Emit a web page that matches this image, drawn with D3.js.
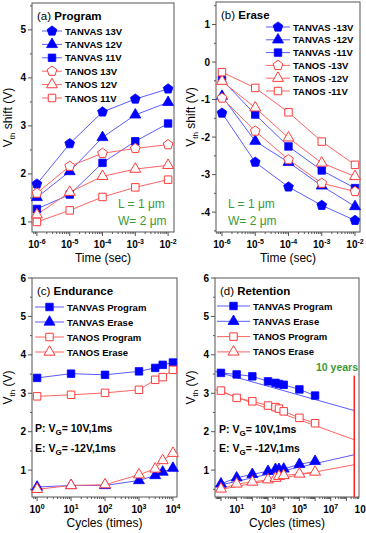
<!DOCTYPE html>
<html>
<head>
<meta charset="utf-8">
<script src="https://cdn.jsdelivr.net/npm/d3@7"></script>
<style>
  body { margin: 0; background: #fff; }
  svg { display: block; font-family: "Liberation Sans", Arial, sans-serif; }
</style>
</head>
<body>
<div id="chart"></div>
<script>
// ---- data ----
const pulseTime = [1e-6, 1e-5, 1e-4, 1e-3, 1e-2];

const progTanvas13 = [1.79, 2.63, 3.29, 3.56, 3.77];
const progTanvas12 = [1.51, 2.05, 2.76, 3.23, 3.49];
const progTanvas11 = [1.27, 1.57, 2.23, 2.68, 3.05];
const progTanos13 = [1.60, 2.16, 2.43, 2.53, 2.61];
const progTanos12 = [1.15, 1.62, 1.95, 2.10, 2.18];
const progTanos11 = [1.00, 1.24, 1.52, 1.72, 1.88];

const eraseTanvas13 = [-1.36, -2.67, -3.33, -3.82, -4.22];
const eraseTanvas12 = [-0.91, -2.11, -2.67, -3.30, -3.85];
const eraseTanvas11 = [-0.47, -1.40, -2.25, -2.89, -3.36];
const eraseTanos13 = [-0.96, -1.84, -2.60, -3.23, -3.45];
const eraseTanos12 = [-0.51, -1.22, -2.02, -2.69, -3.05];
const eraseTanos11 = [-0.27, -0.69, -1.34, -2.12, -2.74];

const cycles = [1, 10, 100, 1e3, 3e3, 5e3, 1e4];
const endTanvasProg = [3.40, 3.51, 3.48, 3.57, 3.66, 3.74, 3.80];
const endTanosProg = [2.92, 2.96, 3.01, 3.09, 3.35, 3.42, 3.61];
const endTanvasErase = [0.56, 0.60, 0.60, 0.73, 0.86, 0.95, 1.05];
const endTanosErase = [0.50, 0.60, 0.62, 0.88, 1.03, 1.25, 1.44];

const retTime = [1, 10, 100, 1e3, 3e3, 5e3, 1e4, 1e5, 1e6];
const retTanvasProg = [3.53, 3.49, 3.44, 3.31, 3.27, 3.24, 3.22, 3.10, 2.94];
const retTanosProg = [3.07, 2.88, 2.79, 2.68, 2.64, 2.60, 2.53, 2.36, 2.22];
const retTanvasErase = [0.64, 0.80, 0.89, 0.97, 1.02, 1.02, 1.03, 1.15, 1.23];
const retTanosErase = [0.51, 0.64, 0.69, 0.75, 0.79, 0.84, 0.86, 0.90, 0.95];

// extrapolation to 10 years
const tenYears = 3.15e8;
const fitTime = [Math.pow(10, -0.38), tenYears];
const fitTanvasProg = [3.57, 2.55];
const fitTanosProg = [3.10, 1.79];
const fitTanvasErase = [0.58, 1.40];
const fitTanosErase = [0.47, 1.14];

// ---- styling ----
const BLUE = "#0000ff", BLUE_LINE = "#5c5cff";
const RED = "#ff3b3b", RED_LINE = "#ff6464";
const GREEN = "#3a9a3a";

const svg = d3.select("#chart").append("svg")
  .attr("width", 366)
  .attr("height", 533);

const pentagon = {
  draw(ctx, size) {
    const r = Math.sqrt(size / 2.378);
    for (let k = 0; k < 5; k++) {
      const a = -Math.PI / 2 + k * 2 * Math.PI / 5;
      if (k === 0) ctx.moveTo(r * Math.cos(a), r * Math.sin(a));
      else ctx.lineTo(r * Math.cos(a), r * Math.sin(a));
    }
    ctx.closePath();
  }
};
const shapes = {
  pent: d3.symbol().type(pentagon).size(62),
  tri: d3.symbol().type(d3.symbolTriangle).size(52),
  sq: d3.symbol().type(d3.symbolSquare).size(56)
};

function drawMarker(g, shape, filled, cx, cy) {
  g.append("path")
    .attr("d", shapes[shape]())
    .attr("transform", `translate(${cx},${cy})`)
    .attr("fill", filled ? BLUE : "#fff")
    .attr("stroke", filled ? BLUE : RED)
    .attr("stroke-width", filled ? 0.8 : 1);
}

function supText(sel, base, exp, size) {
  sel.append("tspan").text(base);
  sel.append("tspan").attr("dy", -4).attr("font-size", size).text(exp);
}

function drawPanel(cfg) {
  const g = svg.append("g");
  const x = d3.scaleLog().domain(cfg.xDomain).range([cfg.left, cfg.right]);
  const y = d3.scaleLinear().domain(cfg.yDomain).range([cfg.bottom, cfg.top]);

  // y ticks (outward)
  const [y0, y1] = cfg.yDomain;
  for (let v = Math.ceil(y0 * 2) / 2; v <= y1 + 1e-9; v += 0.5) {
    const major = Math.abs(v - Math.round(v)) < 1e-9;
    g.append("line")
      .attr("x1", cfg.left).attr("x2", cfg.left - (major ? 4 : 2))
      .attr("y1", y(v)).attr("y2", y(v))
      .attr("stroke", "#555").attr("stroke-width", 1);
    if (major) {
      g.append("text")
        .attr("x", cfg.left - 6).attr("y", y(v) + 3.5)
        .attr("text-anchor", "end")
        .attr("font-size", 10).attr("font-weight", "bold")
        .text(v);
    }
  }

  // x ticks (log, outward)
  const [lx0, lx1] = cfg.xDomain.map(Math.log10);
  for (let d = Math.floor(lx0); d <= Math.ceil(lx1); d++) {
    for (let k = 1; k <= 9; k++) {
      const v = k * Math.pow(10, d);
      const lv = Math.log10(v);
      if (lv < lx0 - 1e-9 || lv > lx1 + 1e-9) continue;
      g.append("line")
        .attr("x1", x(v)).attr("x2", x(v))
        .attr("y1", cfg.bottom).attr("y2", cfg.bottom + (k === 1 ? 4 : 2))
        .attr("stroke", "#555").attr("stroke-width", 1);
    }
  }
  cfg.xLabels.forEach(d => {
    const t = g.append("text")
      .attr("x", x(Math.pow(10, d))).attr("y", cfg.bottom + 16)
      .attr("text-anchor", "middle")
      .attr("font-size", 10).attr("font-weight", "bold");
    supText(t, "10", String(d), 7);
  });

  // frame
  g.append("rect")
    .attr("x", cfg.left).attr("y", cfg.top)
    .attr("width", cfg.right - cfg.left).attr("height", cfg.bottom - cfg.top)
    .attr("fill", "none").attr("stroke", "#555").attr("stroke-width", 1);

  // axis titles
  g.append("text")
    .attr("x", (cfg.left + cfg.right) / 2).attr("y", cfg.bottom + 30)
    .attr("text-anchor", "middle").attr("font-size", 12)
    .text(cfg.xTitle);
  const yt = g.append("text")
    .attr("transform", `translate(${cfg.yTitleX},${(cfg.top + cfg.bottom) / 2}) rotate(-90)`)
    .attr("text-anchor", "middle").attr("font-size", 12);
  yt.append("tspan").text("V");
  yt.append("tspan").attr("dy", 3).attr("font-size", 8).text("th");
  yt.append("tspan").attr("dy", -3).text(cfg.yTitleRest);

  // extra fit lines
  (cfg.fits || []).forEach(f => {
    g.append("path")
      .datum(f.ys.map((v, i) => [f.xs[i], v]))
      .attr("fill", "none")
      .attr("stroke", f.filled ? BLUE_LINE : RED_LINE)
      .attr("stroke-width", 1)
      .attr("d", d3.line().x(d => x(d[0])).y(d => y(d[1])));
  });

  // series lines then markers
  const line = d3.line().x(d => x(d[0])).y(d => y(d[1]));
  cfg.series.forEach(s => {
    g.append("path")
      .datum(s.ys.map((v, i) => [s.xs[i], v]))
      .attr("fill", "none")
      .attr("stroke", s.filled ? BLUE_LINE : RED_LINE)
      .attr("stroke-width", 1)
      .attr("d", line);
  });
  cfg.series.forEach(s => {
    s.ys.forEach((v, i) => drawMarker(g, s.shape, s.filled, x(s.xs[i]), y(v)));
  });

  // panel title
  const tt = g.append("text")
    .attr("x", cfg.left + 5).attr("y", cfg.top + 17)
    .attr("font-size", 11.5);
  tt.append("tspan").text(cfg.tag + " ");
  tt.append("tspan").attr("font-weight", "bold").text(cfg.title);

  // legend
  const lg = cfg.legend;
  cfg.series.forEach((s, i) => {
    const ly = lg.y0 + i * lg.dy;
    g.append("line")
      .attr("x1", lg.x1).attr("x2", lg.x2).attr("y1", ly).attr("y2", ly)
      .attr("stroke", s.filled ? BLUE_LINE : RED_LINE).attr("stroke-width", 1);
    drawMarker(g, s.shape, s.filled, (lg.x1 + lg.x2) / 2, ly);
    g.append("text")
      .attr("x", lg.x2 + 3).attr("y", ly + 3.5)
      .attr("font-size", 9.5).attr("font-weight", "bold")
      .text(s.name);
  });

  return { g, x, y };
}

// (a) Program
const pa = drawPanel({
  left: 32, right: 174, top: 3, bottom: 232,
  xDomain: [Math.pow(10, -6.15), Math.pow(10, -1.82)], yDomain: [0.79, 5.56],
  xLabels: [-6, -5, -4, -3, -2], xTitle: "Time (sec)",
  yTitleX: 12, yTitleRest: " shift (V)",
  tag: "(a)", title: "Program",
  legend: { x1: 42, x2: 62, y0: 31, dy: 13.4 },
  series: [
    { name: "TANVAS 13V", xs: pulseTime, ys: progTanvas13, shape: "pent", filled: true },
    { name: "TANVAS 12V", xs: pulseTime, ys: progTanvas12, shape: "tri", filled: true },
    { name: "TANVAS 11V", xs: pulseTime, ys: progTanvas11, shape: "sq", filled: true },
    { name: "TANOS 13V", xs: pulseTime, ys: progTanos13, shape: "pent", filled: false },
    { name: "TANOS 12V", xs: pulseTime, ys: progTanos12, shape: "tri", filled: false },
    { name: "TANOS 11V", xs: pulseTime, ys: progTanos11, shape: "sq", filled: false }
  ]
});
pa.g.append("text").attr("x", 118).attr("y", 208).attr("font-size", 12).attr("fill", GREEN).text("L = 1 \u03bcm");
pa.g.append("text").attr("x", 118).attr("y", 225).attr("font-size", 12).attr("fill", GREEN).text("W= 2 \u03bcm");

// (b) Erase
const pb = drawPanel({
  left: 216, right: 360, top: 2, bottom: 232,
  xDomain: [Math.pow(10, -6.18), Math.pow(10, -1.85)], yDomain: [-4.53, 1.6],
  xLabels: [-6, -5, -4, -3, -2], xTitle: "Time (sec)",
  yTitleX: 195, yTitleRest: " shift (V)",
  tag: "(b)", title: "Erase",
  legend: { x1: 266, x2: 290, y0: 27, dy: 12.8 },
  series: [
    { name: "TANVAS -13V", xs: pulseTime, ys: eraseTanvas13, shape: "pent", filled: true },
    { name: "TANVAS -12V", xs: pulseTime, ys: eraseTanvas12, shape: "tri", filled: true },
    { name: "TANVAS -11V", xs: pulseTime, ys: eraseTanvas11, shape: "sq", filled: true },
    { name: "TANOS -13V", xs: pulseTime, ys: eraseTanos13, shape: "pent", filled: false },
    { name: "TANOS -12V", xs: pulseTime, ys: eraseTanos12, shape: "tri", filled: false },
    { name: "TANOS -11V", xs: pulseTime, ys: eraseTanos11, shape: "sq", filled: false }
  ]
});
pb.g.append("text").attr("x", 228).attr("y", 208).attr("font-size", 12).attr("fill", GREEN).text("L = 1 \u03bcm");
pb.g.append("text").attr("x", 228).attr("y", 225).attr("font-size", 12).attr("fill", GREEN).text("W= 2 \u03bcm");

function condText(g, xx, yy, prefix, rest) {
  const t = g.append("text").attr("x", xx).attr("y", yy)
    .attr("font-size", 10.5).attr("font-weight", "bold");
  t.append("tspan").text(prefix + "V");
  t.append("tspan").attr("dy", 3).attr("font-size", 8).text("G");
  t.append("tspan").attr("dy", -3).text(rest);
}

// (c) Endurance
const pc = drawPanel({
  left: 32, right: 177, top: 278, bottom: 497,
  xDomain: [Math.pow(10, -0.15), Math.pow(10, 4.12)], yDomain: [0.3, 6],
  xLabels: [0, 1, 2, 3, 4], xTitle: "Cycles (times)",
  yTitleX: 12, yTitleRest: " (V)",
  tag: "(c)", title: "Endurance",
  legend: { x1: 35, x2: 64, y0: 307, dy: 15 },
  series: [
    { name: "TANVAS Program", xs: cycles, ys: endTanvasProg, shape: "sq", filled: true },
    { name: "TANVAS Erase", xs: cycles, ys: endTanvasErase, shape: "tri", filled: true },
    { name: "TANOS Program", xs: cycles, ys: endTanosProg, shape: "sq", filled: false },
    { name: "TANOS Erase", xs: cycles, ys: endTanosErase, shape: "tri", filled: false }
  ]
});
condText(pc.g, 35, 432, "P: ", "= 10V,1ms");
condText(pc.g, 35, 452, "E: ", "= -12V,1ms");

// (d) Retention
const pd = drawPanel({
  left: 215, right: 359, top: 278, bottom: 497,
  xDomain: [Math.pow(10, -0.38), Math.pow(10, 8.8)], yDomain: [0.3, 6],
  xLabels: [1, 3, 5, 7, 9], xTitle: "Cycles (times)",
  yTitleX: 195, yTitleRest: " (V)",
  tag: "(d)", title: "Retention",
  legend: { x1: 217, x2: 250, y0: 306, dy: 15.3 },
  fits: [
    { xs: fitTime, ys: fitTanvasProg, filled: true },
    { xs: fitTime, ys: fitTanosProg, filled: false },
    { xs: fitTime, ys: fitTanvasErase, filled: true },
    { xs: fitTime, ys: fitTanosErase, filled: false }
  ],
  series: [
    { name: "TANVAS Program", xs: retTime, ys: retTanvasProg, shape: "sq", filled: true },
    { name: "TANVAS Erase", xs: retTime, ys: retTanvasErase, shape: "tri", filled: true },
    { name: "TANOS Program", xs: retTime, ys: retTanosProg, shape: "sq", filled: false },
    { name: "TANOS Erase", xs: retTime, ys: retTanosErase, shape: "tri", filled: false }
  ]
});
condText(pd.g, 219, 433, "P: ", "= 10V,1ms");
condText(pd.g, 219, 452, "E: ", "= -12V,1ms");
pd.g.append("line")
  .attr("x1", pd.x(tenYears)).attr("x2", pd.x(tenYears))
  .attr("y1", pd.y(3.46)).attr("y2", pd.y(0.3))
  .attr("stroke", "#ff2020").attr("stroke-width", 1.5);
pd.g.append("text")
  .attr("x", 358).attr("y", 371)
  .attr("text-anchor", "end")
  .attr("font-size", 10.5).attr("font-weight", "bold").attr("fill", GREEN)
  .text("10 years");
</script>
</body>
</html>
